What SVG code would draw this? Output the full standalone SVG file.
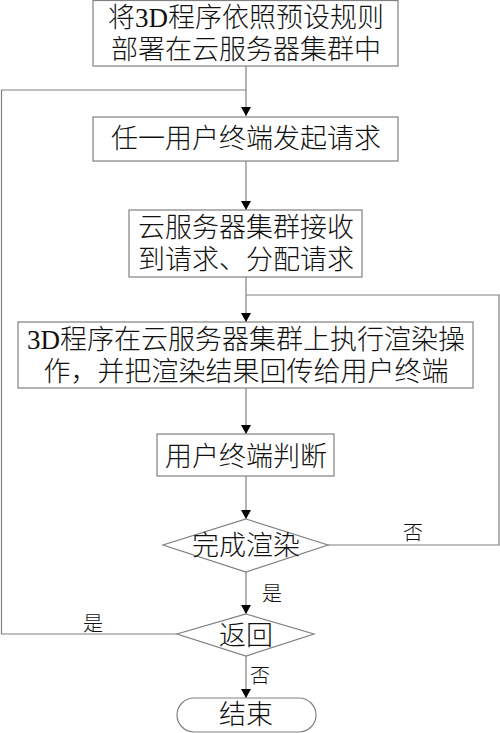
<svg xmlns="http://www.w3.org/2000/svg" width="500" height="733" viewBox="0 0 500 733">
<style>
.box{fill:#fff;stroke:#808080;stroke-width:1.2}
.ln{fill:none;stroke:#808080;stroke-width:1.2}
.t{font-family:"Liberation Serif","Noto Sans CJK SC",serif;font-size:27px;font-weight:300;fill:#111;text-anchor:middle}
.l{font-family:"Noto Sans CJK SC",sans-serif;font-size:20px;font-weight:300;fill:#111;text-anchor:middle}
</style>
<defs>
<marker id="ah" markerWidth="9" markerHeight="10" refX="9" refY="5" orient="auto" markerUnits="userSpaceOnUse">
<path d="M0,0 L9,5 L0,10 Z" fill="#000"/>
</marker>
</defs>
<rect width="500" height="733" fill="#fff"/>
<g id="connectors">
<path class="ln" d="M246,66 V116" marker-end="url(#ah)"/>
<path class="ln" d="M246,161 V210" marker-end="url(#ah)"/>
<path class="ln" d="M246,277 V322" marker-end="url(#ah)"/>
<path class="ln" d="M246,388 V434" marker-end="url(#ah)"/>
<path class="ln" d="M246,476 V519" marker-end="url(#ah)"/>
<path class="ln" d="M246,572 V614" marker-end="url(#ah)"/>
<path class="ln" d="M246,656 V698" marker-end="url(#ah)"/>
<path class="ln" d="M328,545 H499 V295 H246"/>
<path class="ln" d="M177,634 H1.5 V90 H246"/>
<text class="l" x="413" y="540">否</text>
<text class="l" x="272" y="601">是</text>
<text class="l" x="93" y="631">是</text>
<text class="l" x="260" y="683">否</text>
</g>
<g id="n1">
<rect class="box" x="93" y="0.5" width="305" height="65.5"/>
<text class="t" x="246" y="27">将3D程序依照预设规则</text>
<text class="t" x="246" y="59">部署在云服务器集群中</text>
</g>
<g id="n2">
<rect class="box" x="93" y="117" width="305" height="44"/>
<text class="t" x="246" y="148">任一用户终端发起请求</text>
</g>
<g id="n3">
<rect class="box" x="129" y="210" width="233" height="67"/>
<text class="t" x="246" y="237">云服务器集群接收</text>
<text class="t" x="246" y="269">到请求、分配请求</text>
</g>
<g id="n4">
<rect class="box" x="18" y="322" width="455" height="66"/>
<text class="t" x="246" y="349">3D程序在云服务器集群上执行渲染操</text>
<text class="t" x="246" y="381">作，并把渲染结果回传给用户终端</text>
</g>
<g id="n5">
<rect class="box" x="157" y="434" width="177" height="42"/>
<text class="t" x="246" y="466">用户终端判断</text>
</g>
<g id="d1">
<polygon class="box" points="246,519 328,545 246,572 163,545"/>
<text class="t" x="246" y="555">完成渲染</text>
</g>
<g id="d2">
<polygon class="box" points="246,614 314,634 246,656 177,634"/>
<text class="t" x="246" y="645">返回</text>
</g>
<g id="end">
<rect class="box" x="177" y="698" width="139" height="34" rx="17" ry="17"/>
<text class="t" x="246" y="724">结束</text>
</g>
</svg>
